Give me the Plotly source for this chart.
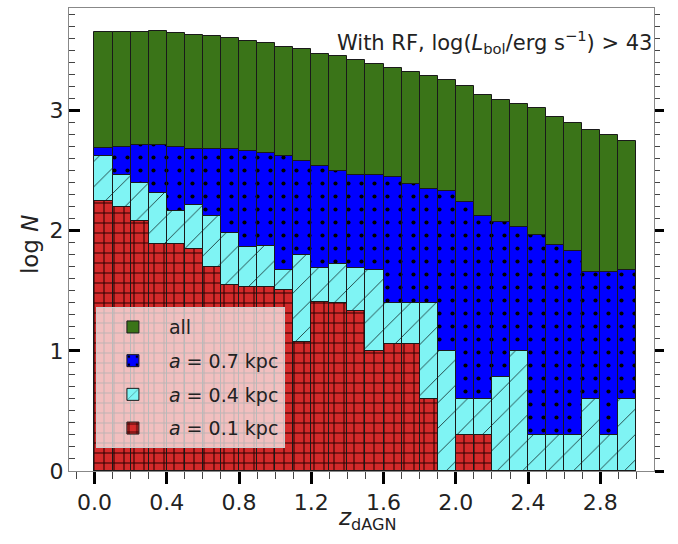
import plotly.graph_objects as go

# bin centres of z_dAGN (bin width 0.1)
z_centers = [0.05, 0.15, 0.25, 0.35, 0.45, 0.55, 0.65, 0.75, 0.85, 0.95,
             1.05, 1.15, 1.25, 1.35, 1.45, 1.55, 1.65, 1.75, 1.85, 1.95,
             2.05, 2.15, 2.25, 2.35, 2.45, 2.55, 2.65, 2.75, 2.85, 2.95]
bin_width = 0.1

logN_all = [3.65, 3.65, 3.65, 3.665, 3.645, 3.63, 3.62, 3.60, 3.58, 3.56,
            3.53, 3.51, 3.47, 3.45, 3.42, 3.39, 3.35, 3.32, 3.29, 3.25,
            3.20, 3.13, 3.09, 3.05, 3.02, 2.95, 2.90, 2.84, 2.80, 2.75]
logN_a07 = [2.69, 2.70, 2.71, 2.71, 2.70, 2.68, 2.68, 2.68, 2.665, 2.65,
            2.62, 2.58, 2.54, 2.50, 2.46, 2.46, 2.45, 2.39, 2.35, 2.33,
            2.24, 2.12, 2.07, 2.03, 1.965, 1.88, 1.83, 1.66, 1.66, 1.67]
logN_a04 = [2.62, 2.465, 2.395, 2.31, 2.165, 2.215, 2.12, 1.98, 1.86, 1.87,
            1.67, 1.80, 1.69, 1.72, 1.69, 1.67, 1.40, 1.40, 1.40, 1.00,
            0.60, 0.60, 0.78, 1.00, 0.30, 0.30, 0.30, 0.60, 0.30, 0.60]
logN_a01 = [2.25, 2.20, 2.08, 1.89, 1.89, 1.85, 1.70, 1.55, 1.535, 1.535,
            1.51, 1.07, 1.41, 1.40, 1.33, 1.00, 1.06, 1.06, 0.60, 0.0,
            0.30, 0.30, 0.0, 0.0, 0.0, 0.0, 0.0, 0.0, 0.0, 0.0]

series_names = ["all", "<i>a</i> = 0.7 kpc", "<i>a</i> = 0.4 kpc", "<i>a</i> = 0.1 kpc"]
series_vals = [logN_all, logN_a07, logN_a04, logN_a01]
series_colors = ["#3a7418", "#0000ff", "#7ff4f4", "#d42a2a"]
series_patterns = [
    dict(shape=""),
    dict(shape=".", fgcolor="black", bgcolor="#0000ff", size=13, solidity=0.08, fillmode="replace"),
    dict(shape="/", fgcolor="#1a3a3a", bgcolor="#7ff4f4", size=18, solidity=0.05, fillmode="replace"),
    dict(shape="+", fgcolor="#2a0000", bgcolor="#d42a2a", size=10, solidity=0.2, fillmode="replace"),
]

FONT = "DejaVu Sans"
TXT = "#222222"
fig = go.Figure()
for i, (nm, vals, col, pat) in enumerate(zip(series_names, series_vals, series_colors, series_patterns)):
    fig.add_trace(go.Bar(
        x=z_centers, y=vals, width=bin_width, name=nm,
        legendgroup=f"g{i}",
        marker=dict(color=col, line=dict(color="#1a1a1a", width=1), pattern=pat),
    ))

# invisible trace for the right axis
fig.add_trace(go.Scatter(x=[z_centers[0]], y=[0], yaxis="y2", mode="markers",
                         marker=dict(opacity=0), showlegend=False, hoverinfo="skip"))

y_range = [0, 3.853]
fig.update_layout(
    width=678, height=544,
    margin=dict(l=69, r=24, t=8, b=73),
    paper_bgcolor="white", plot_bgcolor="white",
    barmode="overlay", bargap=0,
    font=dict(family=FONT, color=TXT),
    showlegend=True,
    legend=dict(
        x=0.046, y=0.354, xanchor="left", yanchor="top",
        bgcolor="rgba(255,255,255,0.7)", bordercolor="#cccccc", borderwidth=1,
        font=dict(size=19, family=FONT, color=TXT),
        tracegroupgap=6, itemwidth=62,
    ),
    xaxis=dict(
        range=[-0.141, 3.097], showgrid=False, zeroline=False, automargin=False,
        showline=True, linecolor="#888888", linewidth=1, mirror=True,
        ticks="outside", ticklen=12, tickwidth=3, tickcolor="black",
        tick0=0, dtick=0.4, tickformat=".1f",
        tickfont=dict(size=22, family=FONT, color=TXT),
        minor=dict(ticks="outside", ticklen=7, tickwidth=1, tickcolor="#444444", dtick=0.1, tick0=0),
    ),
    yaxis=dict(
        range=y_range, showgrid=False, zeroline=False, automargin=False,
        showline=True, linecolor="#888888", linewidth=1, mirror=True,
        ticks="inside", ticklen=11, tickwidth=3, tickcolor="black",
        tick0=0, dtick=1, tickformat="d",
        tickfont=dict(size=22, family=FONT, color=TXT),
        minor=dict(ticks="inside", ticklen=6, tickwidth=1, tickcolor="#444444", dtick=0.1, tick0=0),
    ),
    yaxis2=dict(
        range=y_range, overlaying="y", side="right", showgrid=False, zeroline=False,
        showline=False, showticklabels=False, automargin=False,
        ticks="outside", ticklen=9, tickwidth=3, tickcolor="black", tick0=0, dtick=1,
        minor=dict(ticks="outside", ticklen=5, tickwidth=1, tickcolor="#444444", dtick=0.1, tick0=0),
    ),
)

# axis titles
fig.add_annotation(
    xref="paper", yref="paper", x=0.51, y=-0.104, xanchor="center", yanchor="middle",
    text="<i>z</i><sub>dAGN</sub>", showarrow=False,
    font=dict(size=23, family=FONT, color=TXT),
)
fig.add_annotation(
    xref="paper", yref="paper", x=-0.0667, y=0.49, xanchor="center", yanchor="middle",
    text="log <i>N</i>", textangle=-90, showarrow=False,
    font=dict(size=23, family=FONT, color=TXT),
)
# panel label
fig.add_annotation(
    xref="paper", yref="paper", x=1.0, y=0.9266, xanchor="right", yanchor="middle",
    text="With RF, log(<i>L</i><sub>bol</sub>/erg s<sup>−1</sup>) > 43",
    showarrow=False, font=dict(size=21, family=FONT, color=TXT),
)

fig.write_html("out.html", config={"displayModeBar": False},
               post_script="document.body.style.margin='0';")
